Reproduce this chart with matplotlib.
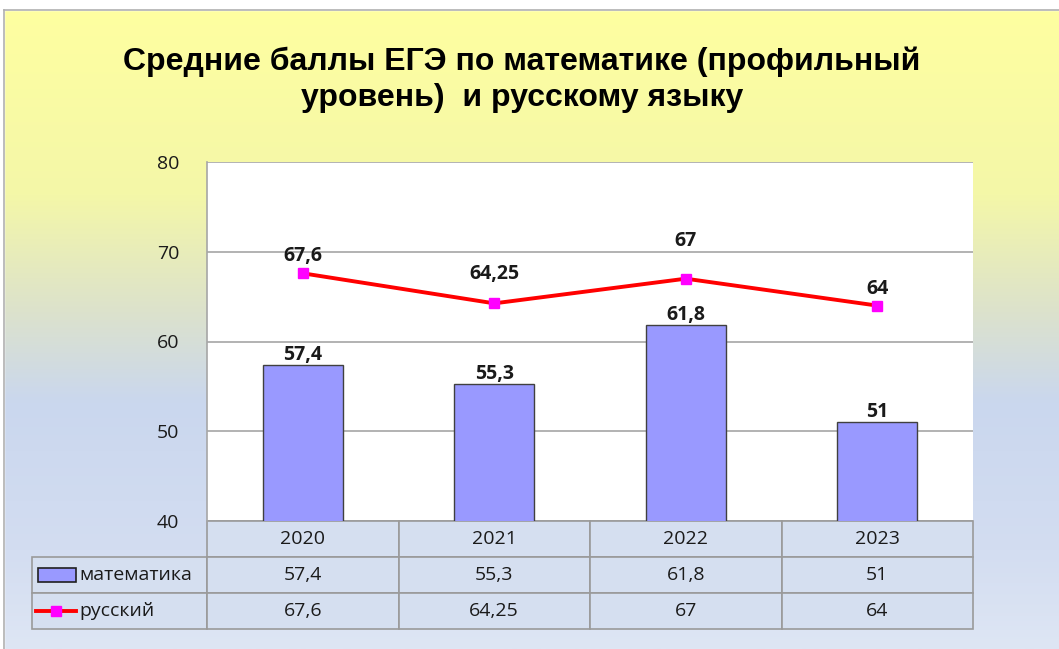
import numpy as np
import matplotlib
matplotlib.use("Agg")
import matplotlib.pyplot as plt
from matplotlib.colors import LinearSegmentedColormap
from matplotlib.lines import Line2D
from matplotlib.patches import Rectangle
import matplotlib.transforms as mtransforms

years = ["2020", "2021", "2022", "2023"]
math_scores = [57.4, 55.3, 61.8, 51]
russian_scores = [67.6, 64.25, 67, 64]
math_labels = ["57,4", "55,3", "61,8", "51"]
russian_labels = ["67,6", "64,25", "67", "64"]
series_names = ["математика", "русский"]

TITLE = "Средние баллы ЕГЭ по математике (профильный\nуровень)  и русскому языку"

BAR_COLOR = "#9999FF"
LINE_COLOR = "#FF0000"
MARKER_COLOR = "#FF00FF"
GRID_COLOR = "#A6A6A6"
CELL_COLOR = "#D5DFF0"
LABEL_FONT = ["Open Sans", "DejaVu Sans"]
TEXT_COLOR = "#1A1A1A"

fig = plt.figure(figsize=(10.59, 6.49), dpi=100)

# background gradient: yellow at the top, light blue lower down
bg = fig.add_axes([0, 0, 1, 1], zorder=-10)
bg.axis("off")
cmap = LinearSegmentedColormap.from_list(
    "bg",
    [(0.0, "#FFFFA0"), (0.30, "#F4F7A8"), (0.48, "#DCE2CC"),
     (0.62, "#CAD7EE"), (0.85, "#D3DDF1"), (1.0, "#DEE6F4")],
)
grad = np.linspace(0, 1, 256).reshape(-1, 1)
bg.imshow(grad, aspect="auto", cmap=cmap, extent=[0, 1, 0, 1], origin="upper")
bg.set_xlim(0, 1)
bg.set_ylim(0, 1)
# white strip and thin frame at top / left
bg.add_patch(Rectangle((0, 1 - 10 / 649), 1, 10 / 649, color="white", zorder=2))
bg.add_patch(Rectangle((0, 0), 4 / 1059, 1, color="white", zorder=2))
bg.plot([4 / 1059, 1], [1 - 10 / 649] * 2, color="#B0B0B0", lw=1.2, zorder=3)
bg.plot([4 / 1059] * 2, [0, 1 - 10 / 649], color="#B0B0B0", lw=1.2, zorder=3)

fig.text(0.493, 1 - 80 / 649, TITLE, ha="center", va="center", fontsize=23,
         fontweight="bold", family="Liberation Sans", linespacing=1.25)

ax = fig.add_axes([207 / 1059, 1 - 521 / 649, 766 / 1059, 359 / 649])
ax.set_facecolor("white")
x = np.arange(len(years))

ax.bar(x, math_scores, width=0.42, color=BAR_COLOR, edgecolor="#404040",
       linewidth=1.0, zorder=3)
ax.plot(x, russian_scores, color=LINE_COLOR, lw=2.8, zorder=4)
ax.plot(x, russian_scores, ls="none", marker="s", ms=7.5, color=MARKER_COLOR,
        zorder=5)

for xi, v, lab in zip(x, math_scores, math_labels):
    ax.annotate(lab, (xi, v), textcoords="offset points", xytext=(0, 0),
                ha="center", va="bottom", fontsize=14, fontweight="bold",
                family=LABEL_FONT, color=TEXT_COLOR, zorder=6)
rus_offsets = [5, 14, 20, 5]
for xi, v, lab, off in zip(x, russian_scores, russian_labels, rus_offsets):
    ax.annotate(lab, (xi, v), textcoords="offset points", xytext=(0, off),
                ha="center", va="bottom", fontsize=14, fontweight="bold",
                family=LABEL_FONT, color=TEXT_COLOR, zorder=6)

ax.set_xlim(-0.5, len(years) - 0.5)
ax.set_ylim(40, 80)
ax.set_yticks([40, 50, 60, 70, 80])
ax.yaxis.grid(True, color=GRID_COLOR, lw=1.2, zorder=0)
ax.set_axisbelow(True)
ax.set_xticks([])
for side in ["top", "right", "bottom"]:
    ax.spines[side].set_visible(False)
ax.spines["left"].set_color(GRID_COLOR)
ax.spines["left"].set_linewidth(1.2)
ax.tick_params(axis="y", length=0, pad=20, labelsize=14, labelcolor=TEXT_COLOR)
for t in ax.get_yticklabels():
    t.set_family(LABEL_FONT)

# data table under the plot
trans = mtransforms.blended_transform_factory(ax.transData, ax.transAxes)
row_h = 36 / 359
legend_left = -0.5 - 175 / 191.5
n = len(years)


def cell(x0, x1, y0, y1):
    ax.add_patch(Rectangle((x0, y0), x1 - x0, y1 - y0, transform=trans,
                           facecolor=CELL_COLOR, edgecolor="#9A9A9A", lw=1.2,
                           clip_on=False, zorder=1))


for i in range(n):
    cell(i - 0.5, i + 0.5, -row_h, 0)
    ax.text(i, -row_h / 2, years[i], transform=trans, ha="center",
            va="center", fontsize=14, family=LABEL_FONT, color=TEXT_COLOR)

rows = [math_labels, russian_labels]
for r, (name, labels) in enumerate(zip(series_names, rows)):
    y1 = -row_h * (r + 1)
    y0 = y1 - row_h
    cell(legend_left, -0.5, y0, y1)
    for i in range(n):
        cell(i - 0.5, i + 0.5, y0, y1)
        ax.text(i, (y0 + y1) / 2, labels[i], transform=trans, ha="center",
                va="center", fontsize=14, family=LABEL_FONT, color=TEXT_COLOR)
    ax.text(legend_left + 0.245, (y0 + y1) / 2, name, transform=trans,
            ha="left", va="center", fontsize=14, family=LABEL_FONT,
            color=TEXT_COLOR)

# legend keys in the table
ym = -row_h * 1.5
ax.add_patch(Rectangle((legend_left + 0.03, ym - row_h * 0.19), 0.2, row_h * 0.38,
                       transform=trans, facecolor=BAR_COLOR,
                       edgecolor="#202020", lw=1.2, clip_on=False, zorder=2))
ym = -row_h * 2.5
ax.add_line(Line2D([legend_left + 0.02, legend_left + 0.23], [ym, ym],
                   transform=trans, color=LINE_COLOR, lw=2.8, clip_on=False,
                   zorder=2))
ax.add_line(Line2D([legend_left + 0.125], [ym], transform=trans, ls="none",
                   marker="s", ms=7.5, color=MARKER_COLOR, clip_on=False,
                   zorder=3))

fig.savefig("out.png", dpi=100)
